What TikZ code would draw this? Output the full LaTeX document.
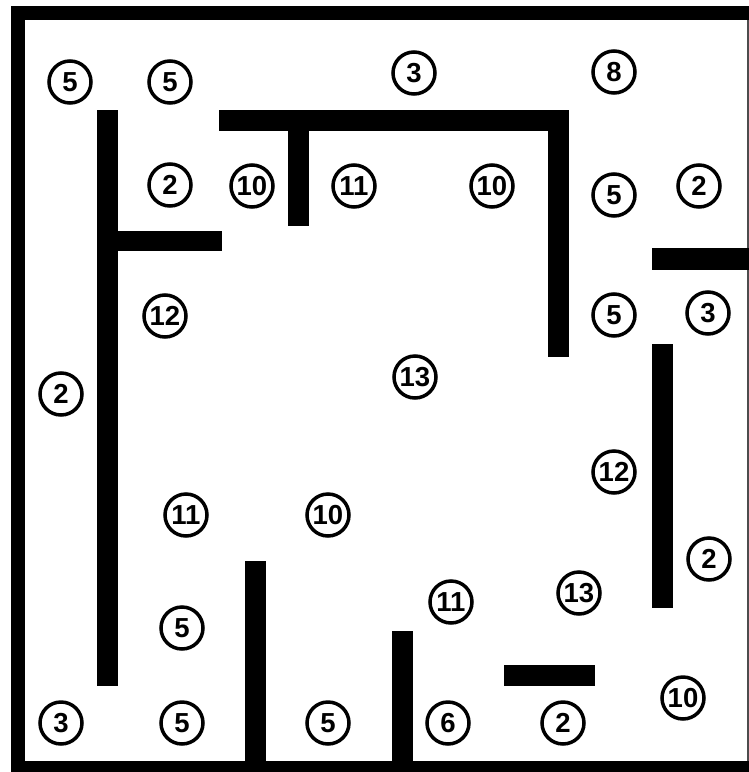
\documentclass[tikz,border=0pt]{standalone}
\usepackage{fontspec}
\setmainfont{Liberation Sans}
\begin{document}
\begin{tikzpicture}[x=1pt,y=-1pt,
  wall/.style={fill=black,draw=none},
  num/.style={circle,draw=black,line width=3.5pt,minimum size=42pt,inner sep=0pt,
    font=\fontsize{27.5}{27.5}\selectfont\bfseries}]
\useasboundingbox[fill=white] (0,0) rectangle (749,772);
% outer walls
\fill[wall] (11,6) rectangle (25,772);
\fill[wall] (11,6) rectangle (749,20);
\fill[wall] (11,761) rectangle (749,772);
\draw[line width=1.5pt,black!70] (748,20) -- (748,761);
% inner walls
\fill[wall] (97,110) rectangle (118,686);
\fill[wall] (118,231) rectangle (222,251);
\fill[wall] (219,110) rectangle (569,131);
\fill[wall] (548,131) rectangle (569,357);
\fill[wall] (288,131) rectangle (309,226);
\fill[wall] (652,248) rectangle (749,270);
\fill[wall] (652,344) rectangle (673,608);
\fill[wall] (245,561) rectangle (266,761);
\fill[wall] (392,631) rectangle (413,761);
\fill[wall] (504,665) rectangle (595,686);
% numbers
\node[num] (n1) at (70,82) {5};
\node[num] (n2) at (170,82) {5};
\node[num] (n3) at (414,73) {3};
\node[num] (n4) at (614,72) {8};
\node[num] (n5) at (170,185) {2};
\node[num] (n6) at (252,186) {10};
\node[num] (n7) at (354,186) {11};
\node[num] (n8) at (492,186) {10};
\node[num] (n9) at (614,195) {5};
\node[num] (n10) at (699,186) {2};
\node[num] (n11) at (165,316) {12};
\node[num] (n12) at (614,315) {5};
\node[num] (n13) at (708,313) {3};
\node[num] (n14) at (61,394) {2};
\node[num] (n15) at (415,377) {13};
\node[num] (n16) at (614,472) {12};
\node[num] (n17) at (186,515) {11};
\node[num] (n18) at (328,515) {10};
\node[num] (n19) at (709,559) {2};
\node[num] (n20) at (579,593) {13};
\node[num] (n21) at (451,602) {11};
\node[num] (n22) at (182,628) {5};
\node[num] (n23) at (61,723) {3};
\node[num] (n24) at (182,723) {5};
\node[num] (n25) at (328,723) {5};
\node[num] (n26) at (448,723) {6};
\node[num] (n27) at (563,723) {2};
\node[num] (n28) at (683,698) {10};
\end{tikzpicture}
\end{document}
